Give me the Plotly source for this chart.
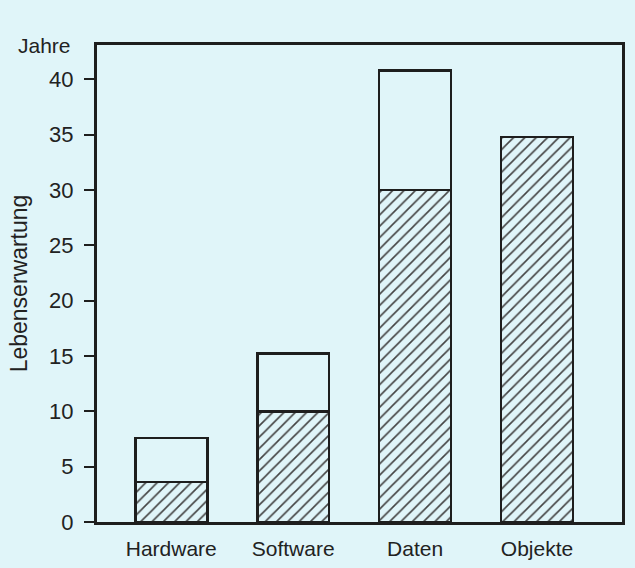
import plotly.graph_objects as go

categories = ["Hardware", "Software", "Daten", "Objekte"]
lower_values = [3.6, 10.0, 30.0, 34.8]      # hatched part
total_values = [7.6, 15.2, 40.8, 34.8]      # full bar height
y_ticks = [0, 5, 10, 15, 20, 25, 30, 35, 40]

upper_values = [t - l if t - l > 0 else None for t, l in zip(total_values, lower_values)]

BG = "#e0f5f9"
INK = "#1e1e1e"
FONT = "Liberation Sans, Arial, Helvetica, sans-serif"

fig = go.Figure()
fig.add_trace(go.Bar(
    x=categories, y=lower_values, width=0.59,
    marker=dict(color=BG, line=dict(color=INK, width=2.6),
                pattern=dict(shape="/", fgcolor="#444444", bgcolor=BG,
                             size=8, solidity=0.2, fillmode="replace")),
    showlegend=False, hoverinfo="skip",
))
fig.add_trace(go.Bar(
    x=categories, y=upper_values, width=0.59,
    marker=dict(color=BG, line=dict(color=INK, width=2.6)),
    showlegend=False, hoverinfo="skip",
))

fig.update_layout(
    barmode="stack",
    width=635, height=568,
    paper_bgcolor=BG, plot_bgcolor=BG,
    margin=dict(l=97, r=13, t=45, b=46),
    font=dict(family=FONT, size=20, color="#222222"),
    xaxis=dict(
        range=[-0.609, 3.697],
        automargin=False,
        showline=True, linewidth=3, linecolor=INK, mirror=True,
        ticks="outside", ticklen=6, tickcolor="rgba(0,0,0,0)",
        showgrid=False, zeroline=False,
        tickfont=dict(size=21),
    ),
    yaxis=dict(
        range=[0, 43.1],
        automargin=False,
        tickvals=y_ticks,
        showline=True, linewidth=3, linecolor=INK, mirror=True,
        ticks="outside", ticklen=10, tickwidth=2, tickcolor=INK,
        showgrid=False, zeroline=False,
        tickfont=dict(size=22),
        ticklabelstandoff=6,
        title=dict(text="Lebenserwartung", font=dict(size=23), standoff=16),
    ),
    annotations=[dict(
        text="Jahre", xref="paper", yref="paper", x=-0.046, y=1.0,
        xanchor="right", yanchor="middle", showarrow=False,
        font=dict(size=21, color="#222222"),
    )],
)

fig.write_html(
    "out.html",
    config={"displayModeBar": False},
    post_script="document.body.style.margin='0';document.body.style.background='%s';" % BG,
)
